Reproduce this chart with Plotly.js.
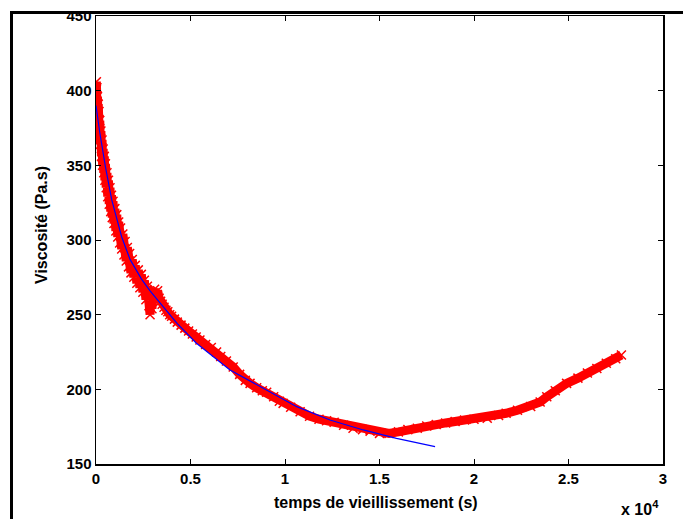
<!DOCTYPE html>
<html>
<head>
<meta charset="utf-8">
<script src="https://cdn.plot.ly/plotly-3.0.1.min.js"></script>
<style>html,body{margin:0;padding:0;background:#fff;}#chart{width:683px;height:519px;}</style>
</head>
<body>
<div id="chart"></div>
<script>
// time in units of 10^4 s, viscosity in Pa.s
const measTime = [0.000,0.002,0.003,0.005,0.006,0.008,0.010,0.012,0.014,0.016,0.018,0.020,0.023,0.026,0.029,0.032,0.035,0.038,0.041,0.044,0.047,0.050,0.054,0.058,0.062,0.066,0.070,0.074,0.078,0.082,0.086,0.090,0.095,0.100,0.105,0.110,0.115,0.120,0.125,0.130,0.136,0.142,0.148,0.154,0.160,0.166,0.172,0.178,0.185,0.192,0.200,0.208,0.216,0.224,0.232,0.240,0.248,0.256,0.264,0.272,0.280,0.286,0.290,0.296,0.302,0.310,0.318,0.326,0.334,0.342,0.350,0.360,0.370,0.380,0.390,0.400,0.415,0.430,0.450,0.470,0.490,0.510,0.530,0.550,0.580,0.610,0.638,0.660,0.690,0.726,0.760,0.790,0.815,0.850,0.880,0.903,0.940,0.970,0.990,1.030,1.080,1.130,1.180,1.220,1.260,1.310,1.360,1.410,1.450,1.500,1.550,1.600,1.650,1.700,1.750,1.800,1.850,1.900,1.950,2.000,2.070,2.130,2.170,2.230,2.300,2.350,2.385,2.430,2.490,2.550,2.600,2.650,2.700,2.750,2.780];
const measVisc = [398,406,390,402,384,396,380,391,374,386,368,380,364,373,356,367,350,361,345,356,340,351,335,345,329,340,324,335,319,330,315,326,311,321,306,317,302,312,298,308,294,304,290,299,286,295,282,291,278,287,275,283,271,280,268,277,265,273,260,269,256,250,263,254,264,267,263,266,261,259,257,255,253,252,250,249,247,245,243,241,239,237,235,233,230,228,225,222,219,215,210,206,204,201,199,198,195,192,190.6,188,185,182,180,179,178,176,174,173,172,170.5,170.5,171.5,173,174,175.5,176.5,177.5,178.5,179.5,180,180.6,182.5,184,186,188.5,191.5,195,199,204,207.5,211,214,217.5,220.5,223];

const fitTime = [0,0.02,0.05,0.083,0.1,0.136,0.18,0.24,0.286,0.35,0.43,0.53,0.709,0.885,1.062,1.238,1.414,1.59,1.767,1.794];
const fitVisc = [390,372,349,327,319,302,287,274,266,256,244,231,213,200.7,188.4,179.5,172.8,167.2,162,161.6];

const xTickVals = [0,0.5,1,1.5,2,2.5,3];
const xTickText = ['0','0.5','1','1.5','2','2.5','3'];
const yTickVals = [150,200,250,300,350,400,450];

const xTitle = 'temps de vieillissement (s)';
const yTitle = 'Viscosité (Pa.s)';
const xScaleLabel = 'x 10<sup>4</sup>';

const TICKFONT = {family: 'Liberation Sans, Arial, sans-serif', size: 15, color: '#000', weight: 700};
const TITLEFONT = {family: 'Liberation Sans, Arial, sans-serif', size: 16, color: '#000', weight: 700};

const traces = [
  {x: measTime, y: measVisc, type: 'scatter', mode: 'lines+markers',
   line: {color: '#ff0000', width: 9},
   marker: {symbol: 'x-thin', size: 9, color: '#ff0000', line: {color: '#ff0000', width: 1.5}},
   hoverinfo: 'skip', showlegend: false},
  {x: fitTime, y: fitVisc, type: 'scatter', mode: 'lines',
   line: {color: '#0000ff', width: 1.2}, hoverinfo: 'skip', showlegend: false}
];

const pl = 96, pr = 663, pt = 16, pb = 464;
const px = v => (v - pl) / (pr - pl);
const py = v => (pb - v) / (pb - pt);

const layout = {
  width: 683, height: 519,
  margin: {l: pl, r: 683 - pr, t: pt, b: 519 - pb, pad: 0},
  paper_bgcolor: '#fff', plot_bgcolor: '#fff',
  font: TICKFONT,
  xaxis: {range: [0, 3], tickvals: xTickVals, ticktext: xTickText, showgrid: false, zeroline: false,
    showline: true, linecolor: '#000', linewidth: 1.5, mirror: 'ticks', ticks: 'inside', ticklen: 5,
    tickcolor: '#000', tickwidth: 1, tickfont: TICKFONT},
  yaxis: {range: [150, 450], tickvals: yTickVals, showgrid: false, zeroline: false,
    showline: true, linecolor: '#000', linewidth: 1.5, mirror: 'ticks', ticks: 'inside', ticklen: 5,
    tickcolor: '#000', tickwidth: 1, tickfont: TICKFONT},
  annotations: [
    {text: xTitle, xref: 'paper', yref: 'paper', x: px(376), y: py(502), xanchor: 'center', yanchor: 'middle', showarrow: false, font: TITLEFONT},
    {text: yTitle, xref: 'paper', yref: 'paper', x: px(42), y: py(225), xanchor: 'center', yanchor: 'middle', textangle: -90, showarrow: false, font: TITLEFONT},
    {text: xScaleLabel, xref: 'paper', yref: 'paper', x: px(640), y: py(508), xanchor: 'center', yanchor: 'middle', showarrow: false, font: TITLEFONT}
  ],
  shapes: [
    {type: 'line', xref: 'paper', yref: 'paper', x0: px(10), x1: px(690), y0: py(12.5), y1: py(12.5), line: {color: '#000', width: 3}},
    {type: 'line', xref: 'paper', yref: 'paper', x0: px(11.5), x1: px(11.5), y0: py(11), y1: py(525), line: {color: '#000', width: 3}}
  ]
};

Plotly.newPlot('chart', traces, layout, {staticPlot: true, displayModeBar: false});
</script>
</body>
</html>
